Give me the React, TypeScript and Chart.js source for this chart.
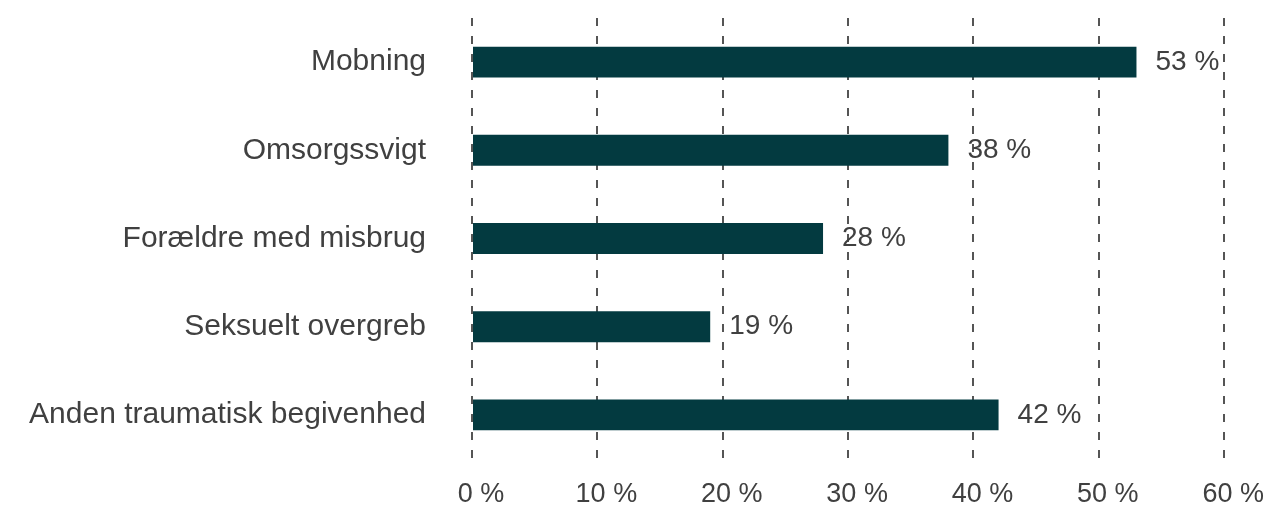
import React, { useEffect, useRef } from "react";
import { Chart, registerables } from "chart.js";

Chart.register(...registerables);

const categories = [
  "Mobning",
  "Omsorgssvigt",
  "Forældre med misbrug",
  "Seksuelt overgreb",
  "Anden traumatisk begivenhed",
];
const values = [53, 38, 28, 19, 42];
const tickSuffix = " %";

const barColor = "#033a40";
const textColor = "#404040";
const fontFamily = "'Liberation Sans', Arial, Helvetica, sans-serif";

const valueLabels = {
  id: "valueLabels",
  afterDatasetsDraw(chart: any) {
    const ctx = chart.ctx;
    const meta = chart.getDatasetMeta(0);
    ctx.save();
    ctx.font = `28px ${fontFamily}`;
    ctx.fillStyle = textColor;
    ctx.textAlign = "left";
    ctx.textBaseline = "middle";
    meta.data.forEach((bar: any, i: number) => {
      const v = chart.data.datasets[0].data[i];
      ctx.fillText(`${v}${tickSuffix}`, bar.x + 19, bar.y);
    });
    ctx.restore();
  },
};

export default function App() {
  const ref = useRef<HTMLCanvasElement | null>(null);
  useEffect(() => {
    if (!ref.current) return;
    const chart = new Chart(ref.current, {
      type: "bar",
      data: {
        labels: categories,
        datasets: [
          {
            data: values,
            backgroundColor: barColor,
            borderWidth: 0,
            barPercentage: 0.35,
            categoryPercentage: 1,
          },
        ],
      },
      options: {
        indexAxis: "y",
        animation: false,
        responsive: false,
        maintainAspectRatio: false,
        layout: { padding: { top: 14, right: 47, left: 0, bottom: 0 } },
        plugins: {
          legend: { display: false },
          tooltip: { enabled: false },
        },
        scales: {
          x: {
            min: 0,
            max: 60,
            ticks: {
              stepSize: 10,
              callback: (v: any) => `${v}${tickSuffix}`,
              font: { size: 27, family: fontFamily },
              color: textColor,
              padding: 19,
              labelOffset: 9,
              maxRotation: 0,
            },
            grid: {
              color: "#555555",
              lineWidth: 2,
              drawTicks: false,
              borderDash: [8, 10],
            } as any,
            border: { display: false, dash: [8, 10] },
            afterFit: (s: any) => {
              s.height = 48;
            },
          },
          y: {
            ticks: {
              font: { size: 30, family: fontFamily },
              color: textColor,
              padding: 0,
            },
            grid: {
              display: true,
              drawOnChartArea: false,
              drawTicks: true,
              tickLength: 46,
              color: "rgba(0,0,0,0)",
            },
            border: { display: false },
            afterFit: (s: any) => {
              s.width = 472;
            },
          },
        },
      },
      plugins: [valueLabels],
    });
    return () => chart.destroy();
  }, []);
  return (
    <div style={{ position: "fixed", left: 0, top: 0, width: 1274, height: 507, background: "#fff" }}>
      <canvas ref={ref} width={1274} height={507} />
    </div>
  );
}
